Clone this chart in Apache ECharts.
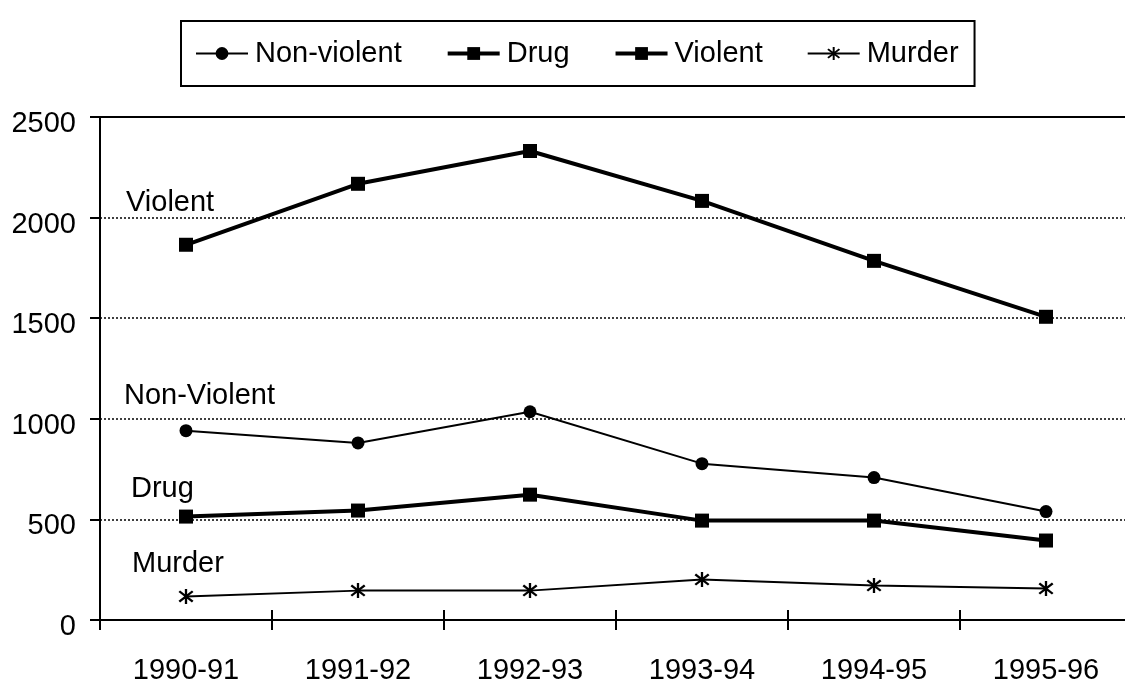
<!DOCTYPE html>
<html>
<head>
<meta charset="utf-8">
<script src="https://cdn.jsdelivr.net/npm/echarts@6/dist/echarts.min.js"></script>
<style>
html, body { margin: 0; padding: 0; background: #fff; }
#chart { width: 1125px; height: 687px; }
</style>
</head>
<body>
<div id="chart"></div>
<script>
var years = ['1990-91', '1991-92', '1992-93', '1993-94', '1994-95', '1995-96'];
var nonViolent = [941, 880, 1035, 777, 708, 539];
var drug = [514, 544, 623, 494, 494, 395];
var violent = [1865, 2168, 2331, 2083, 1785, 1507];
var murder = [117, 146, 146, 201, 171, 156];
var yTicks = { min: 0, max: 2500, step: 500 };

// asterisk marker drawn as filled thin bars
var star = 'path://M8.6 0L11.4 0L11.4 20L8.6 20Z' +
	'M0.9 4.2L2.8 2.0L19.1 15.8L17.2 18.0Z' +
	'M17.2 2.0L19.1 4.2L2.8 18.0L0.9 15.8Z';

var font = 'Liberation Sans, Arial, sans-serif';

var chart = echarts.init(document.getElementById('chart'));
var option = {
	animation: false,
	backgroundColor: '#fff',
	textStyle: { fontFamily: font, color: '#000' },
	legend: {
		left: 181,
		top: 21,
		padding: [18, 16, 18, 14],
		itemWidth: 52,
		itemHeight: 16,
		itemGap: 44,
		borderColor: '#000',
		borderWidth: 2,
		textStyle: { fontSize: 29, color: '#000', fontFamily: font, padding: [0, 0, 0, 2] },
		data: [
			{ name: 'Non-violent', lineStyle: { width: 2 } },
			{ name: 'Drug', lineStyle: { width: 4 } },
			{ name: 'Violent', lineStyle: { width: 4 } },
			{ name: 'Murder', lineStyle: { width: 2 } }
		]
	},
	grid: {
		left: 100,
		top: 117,
		width: 1032,
		height: 503,
		containLabel: false,
		outerBoundsMode: 'none',
		show: true,
		borderColor: '#000',
		borderWidth: 2,
		backgroundColor: 'transparent'
	},
	xAxis: [{
		type: 'category',
		data: years,
		boundaryGap: true,
		axisLine: { lineStyle: { color: '#000', width: 2 } },
		axisTick: { show: true, length: 10, lineStyle: { color: '#000', width: 2 } },
		axisLabel: { fontSize: 29, color: '#000', margin: 36, fontFamily: font }
	}, {
		type: 'category',
		data: years,
		position: 'bottom',
		boundaryGap: true,
		axisLine: { show: false },
		axisTick: { show: true, inside: true, length: 10, lineStyle: { color: '#000', width: 2 } },
		axisLabel: { show: false }
	}],
	yAxis: {
		type: 'value',
		min: yTicks.min,
		max: yTicks.max,
		interval: yTicks.step,
		axisLine: { show: true, lineStyle: { color: '#000', width: 2 } },
		axisTick: { show: true, length: 10, lineStyle: { color: '#000', width: 2 } },
		axisLabel: {
			fontSize: 29, color: '#000', margin: 24, fontFamily: font,
			verticalAlign: 'top', lineHeight: 14,
			formatter: function (v) { return String(v); }
		},
		splitLine: { show: true, lineStyle: { color: '#000', width: 1.5, type: [2, 2] } }
	},
	graphic: [
		{ type: 'text', left: 126, top: 188, style: { text: 'Violent', fontSize: 29, fontFamily: font, fill: '#000' } },
		{ type: 'text', left: 124, top: 381, style: { text: 'Non-Violent', fontSize: 29, fontFamily: font, fill: '#000' } },
		{ type: 'text', left: 131, top: 474, style: { text: 'Drug', fontSize: 29, fontFamily: font, fill: '#000' } },
		{ type: 'text', left: 132, top: 549, style: { text: 'Murder', fontSize: 29, fontFamily: font, fill: '#000' } }
	],
	series: [{
		name: 'Non-violent',
		type: 'line',
		data: nonViolent,
		symbol: 'circle',
		symbolSize: 13,
		itemStyle: { color: '#000' },
		lineStyle: { color: '#000', width: 2 }
	}, {
		name: 'Drug',
		type: 'line',
		data: drug,
		symbol: 'rect',
		symbolSize: 14,
		itemStyle: { color: '#000' },
		lineStyle: { color: '#000', width: 4 }
	}, {
		name: 'Violent',
		type: 'line',
		data: violent,
		symbol: 'rect',
		symbolSize: 14,
		itemStyle: { color: '#000' },
		lineStyle: { color: '#000', width: 4 }
	}, {
		name: 'Murder',
		type: 'line',
		data: murder,
		symbol: star,
		symbolSize: 15,
		itemStyle: { color: '#000' },
		lineStyle: { color: '#000', width: 2 }
	}]
};
chart.setOption(option);
</script>
</body>
</html>
